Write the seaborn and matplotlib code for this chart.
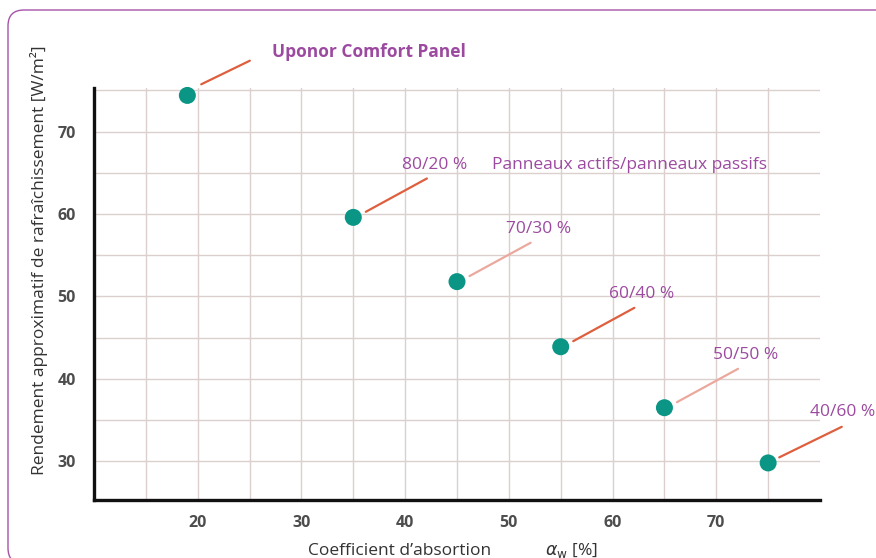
import matplotlib
matplotlib.use("Agg")
import matplotlib.pyplot as plt
import matplotlib.transforms as mtransforms
from matplotlib.patches import FancyBboxPatch
import seaborn as sns
import pandas as pd

# ---- data ----
absorption = [19, 35, 45, 55, 65, 75]
rendement = [74.4, 59.6, 51.8, 43.9, 36.5, 29.8]
labels = ["Uponor Comfort Panel", "80/20 %", "70/30 %", "60/40 %", "50/50 %", "40/60 %"]
line_colors = ["#de5f3e", "#de5f3e", "#eba89d", "#de5f3e", "#eba89d", "#de5f3e"]
x_ticks = [20, 30, 40, 50, 60, 70]
y_ticks = [30, 40, 50, 60, 70]
legend_note = "Panneaux actifs/panneaux passifs"
x_title = "Coefficient d\u2019absortion"
x_symbol = r"$\alpha_{\mathrm{w}}$ [%]"
y_title = "Rendement approximatif de rafra\u00eechissement [W/m\u00b2]"

df = pd.DataFrame({"x": absorption, "y": rendement})

sns.set_style("white")
plt.rcParams["font.family"] = ["Open Sans", "DejaVu Sans"]

W, H = 876, 558
fig = plt.figure(figsize=(W / 100, H / 100), dpi=100)

# rounded purple frame
frame = FancyBboxPatch((8, -6), 940, 554, boxstyle="round,pad=0,rounding_size=16",
                       transform=mtransforms.IdentityTransform(),
                       facecolor="white", edgecolor="#a553a8", linewidth=1.0, zorder=0)
fig.add_artist(frame)

ax = fig.add_axes([94 / W, (H - 500) / H, (820 - 94) / W, (500 - 88) / H])
ax.set_facecolor("none")

sns.scatterplot(data=df, x="x", y="y", ax=ax, s=150, color="#0b9585",
                edgecolor="none", zorder=5, clip_on=False)

ax.set_xlim(10, 80)
ax.set_ylim(25.3, 75.3)
ax.set_xticks(x_ticks)
ax.set_yticks(y_ticks)
ax.set_xticks([15, 25, 35, 45, 55, 65, 75], minor=True)
ax.set_yticks([35, 45, 55, 65, 75], minor=True)
ax.grid(True, which="both", color="#dcd0cf", linewidth=1.0)
ax.set_axisbelow(True)
ax.tick_params(which="both", length=0)
ax.tick_params(axis="y", pad=13, labelsize=11.5, labelcolor="#4d4d4d")
ax.tick_params(axis="x", pad=11, labelsize=11.5, labelcolor="#4d4d4d")
for t in ax.get_xticklabels() + ax.get_yticklabels():
    t.set_fontweight("bold")

for side in ["top", "right"]:
    ax.spines[side].set_visible(False)
for side in ["left", "bottom"]:
    ax.spines[side].set_color("#111111")
    ax.spines[side].set_linewidth(2.4)

ax.set_xlabel("")
ax.set_ylabel(y_title, fontsize=12.5, color="#333333")
ax.yaxis.set_label_coords(-0.064, 0.583)

purple = "#9c4aa0"
for i, (xv, yv, lab, lc) in enumerate(zip(absorption, rendement, labels, line_colors)):
    if i == 0:
        p0, p1, tp = (10, 8), (45, 25), (61, 31)
        weight = "bold"
    elif i == 5:
        p0, p1, tp = (8, 4), (53, 26), (30, 37)
        weight = "normal"
    else:
        p0, p1, tp = (9, 4), (53, 28), (35, 38)
        weight = "normal"
    trans0 = mtransforms.offset_copy(ax.transData, fig=fig, x=p0[0], y=p0[1], units="points")
    trans1 = mtransforms.offset_copy(ax.transData, fig=fig, x=p1[0], y=p1[1], units="points")
    d0 = trans0.transform((xv, yv))
    d1 = trans1.transform((xv, yv))
    ax.add_line(plt.Line2D([d0[0], d1[0]], [d0[1], d1[1]], transform=mtransforms.IdentityTransform(),
                           color=lc, linewidth=1.6, clip_on=False, zorder=4))
    ax.annotate(lab, xy=(xv, yv), xytext=tp, textcoords="offset points",
                ha="left", va="center", fontsize=12.5, color=purple,
                fontweight=weight, annotation_clip=False)
    if i == 1:
        ax.annotate(legend_note, xy=(xv, yv), xytext=(100, 38), textcoords="offset points",
                    ha="left", va="center", fontsize=12.5, color=purple,
                    annotation_clip=False)

fig.text(308 / W, (H - 551) / H, x_title, ha="left", va="center", fontsize=12.5, color="#333333")
fig.text(545 / W, (H - 551) / H, x_symbol, ha="left", va="center", fontsize=12.5, color="#333333")

fig.savefig("out.png", dpi=100)
